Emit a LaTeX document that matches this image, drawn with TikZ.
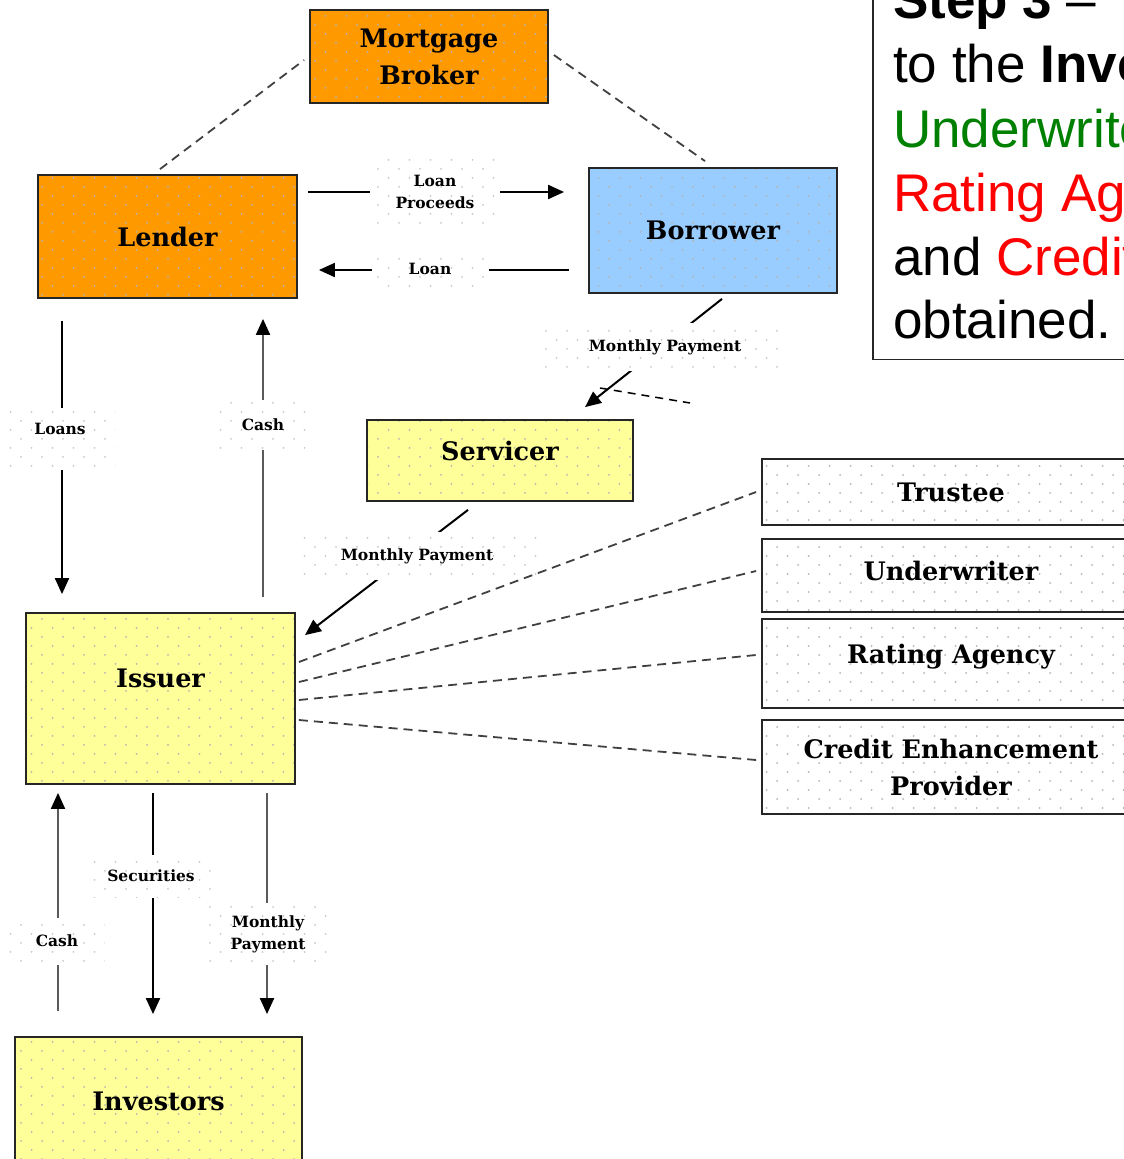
\documentclass[tikz,border=0pt]{standalone}
\usepackage{fontspec}
\setmainfont{DejaVu Serif}
\newfontfamily\arialfont{Liberation Sans}
\usetikzlibrary{arrows.meta,patterns}

\pgfdeclarepatternformonly{sdots}{\pgfqpoint{-1.5pt}{-1.5pt}}{\pgfqpoint{22.5pt}{19.5pt}}{\pgfqpoint{21pt}{18pt}}{%
  \pgfpathcircle{\pgfqpoint{0pt}{0pt}}{1pt}%
  \pgfpathcircle{\pgfqpoint{10.5pt}{9pt}}{1pt}%
  \pgfusepath{fill}}

\definecolor{borange}{HTML}{FF9900}
\definecolor{bblue}{HTML}{99CCFF}
\definecolor{byellow}{HTML}{FFFF99}
\definecolor{dotgray}{HTML}{B4B4B4}
\definecolor{lblgray}{HTML}{C8C8C8}
\definecolor{ggreen}{HTML}{008000}
\definecolor{rred}{HTML}{FF0000}
\definecolor{linegray}{HTML}{5A5A5A}

\tikzset{
  box/.style={draw=black!85, line width=1.8pt, inner sep=0pt, align=center,
    font=\bfseries\fontsize{25.5}{37}\selectfont, pattern=sdots, pattern color=dotgray},
  orangebox/.style={box, preaction={fill=borange}},
  bluebox/.style={box, preaction={fill=bblue}},
  yellowbox/.style={box, preaction={fill=byellow}},
  whitebox/.style={box, preaction={fill=white}, minimum width=378pt},
  lbl/.style={inner sep=0pt, align=center, preaction={fill=white}, pattern=sdots,
    pattern color=lblgray, font=\bfseries\fontsize{15.5}{22}\selectfont},
  arr/.style={line width=2pt, -{Triangle[length=16pt,width=14pt]}},
  grayarr/.style={line width=2pt, draw=linegray, -{Triangle[length=16pt,width=14pt,color=black]}},
  dashline/.style={line width=1.8pt, draw=black!75, dash pattern=on 9pt off 6pt},
  steptext/.style={anchor=base west, inner sep=0pt, font=\arialfont\fontsize{53}{64}\selectfont}
}

\begin{document}
\begin{tikzpicture}[x=1pt,y=-1pt]
\useasboundingbox (0,0) rectangle (1124,1159);
\clip (0,0) rectangle (1124,1159);

% boxes
\node[orangebox, minimum width=238pt, minimum height=93pt] (broker) at (429,56.5) {Mortgage\\Broker};
\node[orangebox, minimum width=259pt, minimum height=123pt, text depth=-4pt] (lender) at (167.5,236.5) {Lender};
\node[bluebox, minimum width=248pt, minimum height=125pt] (borrower) at (713,230.5) {Borrower};
\node[yellowbox, minimum width=266pt, minimum height=81pt, text depth=20pt] (servicer) at (500,460.5) {Servicer};
\node[yellowbox, minimum width=269pt, minimum height=171pt, text depth=40pt] (issuer) at (160.5,698.5) {Issuer};
\node[yellowbox, minimum width=287pt, minimum height=128pt] (investors) at (158.5,1101) {Investors};

\node[whitebox, minimum height=66pt] (trustee) at (951,492) {Trustee};
\node[whitebox, minimum height=73pt, text depth=10pt] (underwriter) at (951,575.5) {Underwriter};
\node[whitebox, minimum height=89pt, text depth=20pt] (rating) at (951,663.5) {Rating Agency};
\node[whitebox, minimum height=94pt] (credit) at (951,767) {Credit Enhancement\\Provider};

% solid connectors
\draw[arr, shorten <=10pt, shorten >=24pt] (lender.east |- 0,192) -- (borrower.west |- 0,192);
\draw[arr, shorten <=19pt, shorten >=21pt] (borrower.west |- 0,270) -- (lender.east |- 0,270);
\draw[arr] ([shift={(9,5)}]borrower.south) -- ([shift={(85,-12)}]servicer.north);
\draw[arr] ([shift={(-32,8)}]servicer.south) -- ([shift={(144.5,23)}]issuer.north);
\draw[arr, shorten <=22pt, shorten >=18pt] (lender.south -| 62,0) -- (issuer.north -| 62,0);
\draw[grayarr, shorten <=15pt, shorten >=20pt] (issuer.north -| 263,0) -- (lender.south -| 263,0);
\draw[grayarr, shorten <=25pt, shorten >=8pt] (investors.north -| 58,0) -- (issuer.south -| 58,0);
\draw[arr, shorten <=8pt, shorten >=22pt] (issuer.south -| 153,0) -- (investors.north -| 153,0);
\draw[grayarr, shorten <=8pt, shorten >=22pt] (issuer.south -| 267,0) -- (investors.north -| 267,0);

% labels
\node[lbl, minimum width=130pt, minimum height=68pt] (lp) at (435,192) {Loan\\Proceeds};
\node[lbl, minimum width=117pt, minimum height=36pt] (ln) at (430,269) {Loan};
\node[lbl, minimum width=240pt, minimum height=48pt] (mp1) at (665,347) {Monthly Payment};
\node[lbl, minimum width=240pt, minimum height=48pt] (mp2) at (417,556) {Monthly Payment};
\node[lbl, minimum width=110pt, minimum height=62pt, text depth=20pt] (loans) at (60,439) {Loans};
\node[lbl, minimum width=95pt, minimum height=50pt] (cash1) at (263,425) {Cash};
\node[lbl, minimum width=95pt, minimum height=47pt] (cash2) at (57,941) {Cash};
\node[lbl, minimum width=130pt, minimum height=43pt] (sec) at (151,876) {Securities};
\node[lbl, minimum width=120pt, minimum height=62pt] (mp3) at (268,934) {Monthly\\Payment};

% dashed connectors
\draw[dashline] ([shift={(-7.5,-5)}]lender.north) -- ([shift={(-5,3.5)}]broker.west);
\draw[dashline] ([shift={(5,-1.5)}]broker.east) -- ([shift={(-8,-6)}]borrower.north);
\draw[dashline] ([shift={(3,-36.5)}]issuer.east) -- ([shift={(-5,0)}]trustee.west);
\draw[dashline] ([shift={(3,-16.5)}]issuer.east) -- ([shift={(-5,-4.5)}]underwriter.west);
\draw[dashline] ([shift={(3,1.5)}]issuer.east) -- ([shift={(-5,-8.5)}]rating.west);
\draw[dashline] ([shift={(3,21.5)}]issuer.east) -- ([shift={(-5,-7)}]credit.west);
\coordinate (st1) at (600,388);
\coordinate (st2) at (690,403);
\draw[line width=1.5pt, dash pattern=on 8pt off 6pt] (st1) -- (st2);

% step text box
\node[draw=black!85, line width=1.5pt, fill=white, minimum width=280pt, minimum height=380pt, anchor=south west, inner sep=0pt] (stepbox) at (872,360) {};
\node[steptext] (t1) at (893,18) {\textbf{Step 3} –};
\node[steptext] (t2) at (893,82) {to the \textbf{Investors}};
\node[steptext, text=ggreen] (t3) at (893,147) {Underwriter};
\node[steptext, text=rred] (t4) at (893,211) {Rating Agency};
\node[steptext] (t5) at (893,275) {and \textcolor{rred}{Credit}};
\node[steptext] (t6) at (893,338) {obtained.};
\end{tikzpicture}
\end{document}
